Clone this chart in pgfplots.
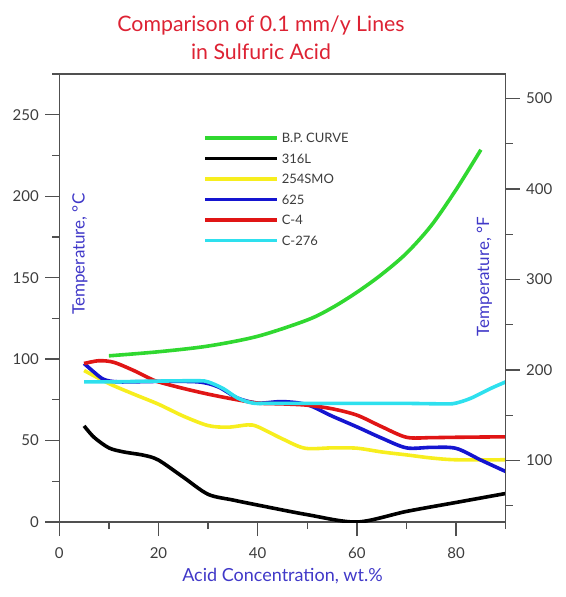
\documentclass[border=0pt]{standalone}
\usepackage{fontspec}
\setmainfont{Lato}
\usepackage{pgfplots}
\pgfplotsset{compat=1.18}
\definecolor{cgreen}{HTML}{30D830}
\definecolor{cyellow}{HTML}{F7EE1E}
\definecolor{cblue}{HTML}{1515D0}
\definecolor{cred}{HTML}{E01515}
\definecolor{ccyan}{HTML}{2EE0EE}
\definecolor{titlered}{HTML}{DD2233}
\definecolor{labelblue}{HTML}{4038C8}
\definecolor{ticktext}{HTML}{3C3C3C}
\definecolor{axisgray}{HTML}{505050}
\begin{document}
\begin{tikzpicture}
\useasboundingbox (-59.3pt,-75pt) rectangle (505.7pt,522pt);
\begin{axis}[
  at={(0pt,0pt)}, anchor=south west,
  scale only axis, width=446.4pt, height=448pt,
  xmin=0, xmax=90, ymin=0, ymax=275,
  xtick={0,20,...,80}, minor xtick={10,30,...,90},
  ytick={0,50,...,250}, minor ytick={25,75,...,275},
  tick pos=left, tick align=outside,
  major tick length=14pt, minor tick length=7pt,
  axis line style={line width=1.3pt, color=axisgray},
  tick style={line width=1.3pt, color=axisgray},
  /pgf/number format/assume math mode=true,
  ticklabel style={font=\fontsize{15}{18}\selectfont, text=ticktext},
  xticklabel style={yshift=-8pt},
  yticklabel style={xshift=-3pt},
  xlabel={Acid Concentration, wt.\%},
  xlabel style={at={(axis description cs:0.5,0)}, anchor=base, yshift=-59pt, font=\fontsize{18}{21}\selectfont, text=labelblue},
  ylabel={Temperature, °C},
  ylabel style={at={(axis description cs:0.046,0.598)}, anchor=center, font=\fontsize{17}{20}\selectfont, text=labelblue},
  legend style={at={(rel axis cs:0.3152,0.872)}, anchor=north west, draw=none, fill=none,
    font=\fontsize{13}{15}\selectfont, text=ticktext, row sep=11.2pt, column sep=3pt,
    nodes={inner sep=0pt, text height=9.3pt, text depth=0pt}},
  legend cell align=left,
  legend image code/.code={\draw[#1] (0pt,0pt) -- (72pt,0pt);},
  every axis plot/.append style={line width=3.6pt, smooth, tension=0.5},
]
\addplot[cgreen] coordinates {(10,102) (20,104.5) (30,108) (40,114) (50,124) (55,131.5) (60,141) (65,152) (70,165) (75,182) (80,204) (85,228.5)};
\addlegendentry{B.P. CURVE}
\addplot[black] coordinates {(5,59) (7,52) (10,45.5) (13,43) (17,41) (20,38) (25,27.5) (30,17) (35,13.5) (40,10.4) (50,4.5) (60,0) (70,6.5) (80,12) (90,17.5)};
\addlegendentry{316L}
\addplot[cyellow] coordinates {(5,93) (10,85) (15,78.5) (20,72.3) (25,65) (30,59.2) (34,58.2) (38,59.6) (40,58.5) (45,51) (49.5,45.3) (55,45.5) (60,45.3) (65,43) (70,41.2) (75,39.3) (80,38.2) (90,38.2)};
\addlegendentry{254SMO}
\addplot[cblue] coordinates {(5,97.3) (7,92) (9,87.5) (12,86) (20,86.3) (28,86) (32,83) (36,76) (40,73) (45,73.9) (50,72) (55,65) (60,58.4) (65,51.5) (70,45.5) (75,45.8) (80,45.2) (85,38) (90,31)};
\addlegendentry{625}
\addplot[cred] coordinates {(5,97.3) (8,99) (11,98) (15,93) (18,88.5) (20,86) (25,82) (30,78.5) (35,75.5) (40,73) (45,72.5) (50,71.7) (55,69.5) (60,65.6) (65,58.5) (70,52) (75,51.8) (80,52) (90,52.3)};
\addlegendentry{C-4}
\addplot[ccyan] coordinates {(5,86) (10,86) (20,86.5) (28,86.7) (30,86) (33,82) (36,76) (39,73) (42,72.8) (50,72.8) (60,72.8) (70,72.8) (78,72.5) (80,73) (83,76) (87,82) (90,86)};
\addlegendentry{C-276}
\end{axis}
\begin{axis}[
  at={(0pt,0pt)}, anchor=south west,
  scale only axis, width=446.4pt, height=448pt,
  xmin=0, xmax=90, ymin=32, ymax=527,
  axis x line=none, axis y line*=right,
  ytick={100,200,...,500}, minor ytick={50,150,...,450},
  tick align=outside,
  major tick length=14pt, minor tick length=7pt,
  axis line style={line width=1.3pt, color=axisgray, -},
  tick style={line width=1.3pt, color=axisgray},
  /pgf/number format/assume math mode=true,
  ticklabel style={font=\fontsize{15}{18}\selectfont, text=ticktext},
  yticklabel style={xshift=3pt},
  ylabel={Temperature, °F},
  ylabel style={at={(axis description cs:0.9525,0.548)}, anchor=center, font=\fontsize{17}{20}\selectfont, text=labelblue},
]
\end{axis}
\node[anchor=base, font=\fontsize{21.3}{25}\selectfont, text=titlered] at (201.7pt,490.3pt) {Comparison of 0.1 mm/y Lines};
\node[anchor=base, font=\fontsize{21.3}{25}\selectfont, text=titlered] at (201.7pt,462pt) {in Sulfuric Acid};
\end{tikzpicture}
\end{document}
